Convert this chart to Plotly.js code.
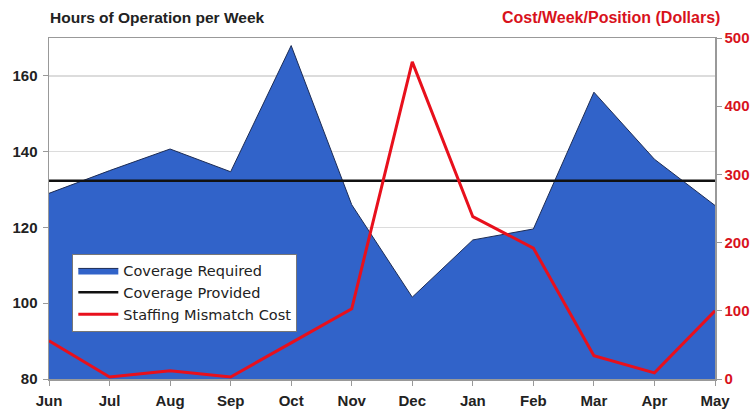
<!DOCTYPE html>
<html>
<head>
<meta charset="utf-8">
<script src="https://cdn.plot.ly/plotly-3.0.1.min.js"></script>
<style>
html,body{margin:0;padding:0;background:#fff;}
#chart{width:756px;height:414px;}
</style>
</head>
<body>
<div id="chart"></div>
<script>
const months = ["Jun","Jul","Aug","Sep","Oct","Nov","Dec","Jan","Feb","Mar","Apr","May"];
const coverageRequired = [129, 135, 140.7, 134.7, 168, 126, 101.6, 116.7, 119.6, 155.7, 138, 125.8];
const coverageProvided = [132.3, 132.3, 132.3, 132.3, 132.3, 132.3, 132.3, 132.3, 132.3, 132.3, 132.3, 132.3];
const mismatchCost = [56, 3, 12, 3, 53, 103, 465, 238, 192, 34, 9, 100];
const leftTicks = [80, 100, 120, 140, 160];
const rightTicks = [0, 100, 200, 300, 400, 500];

const tickFont = {family: "Liberation Sans, Arial, sans-serif", size: 15, color: "#222", weight: "bold"};

const traces = [
  {
    x: months, y: coverageRequired, name: "Coverage Required",
    type: "scatter", mode: "lines", fill: "tozeroy",
    fillcolor: "#3163C9", line: {color: "#1c2c55", width: 1},
    xaxis: "x", yaxis: "y"
  },
  {
    x: months, y: coverageProvided, name: "Coverage Provided",
    type: "scatter", mode: "lines",
    line: {color: "#111", width: 2.5},
    xaxis: "x", yaxis: "y"
  },
  {
    x: months, y: mismatchCost, name: "Staffing Mismatch Cost",
    type: "scatter", mode: "lines",
    line: {color: "#E8101C", width: 3},
    xaxis: "x", yaxis: "y2"
  }
];

const layout = {
  width: 756, height: 414,
  margin: {l: 49, r: 41, t: 38, b: 35},
  paper_bgcolor: "#fff", plot_bgcolor: "#fff",
  showlegend: true,
  legend: {
    x: 0.035, y: 0.368, xanchor: "left", yanchor: "top",
    bgcolor: "#fff", bordercolor: "#777", borderwidth: 1,
    font: {family: "DejaVu Sans, Verdana, sans-serif", size: 14.5, color: "#222"},
    tracegroupgap: 0, itemwidth: 40
  },
  xaxis: {
    type: "category", range: [0, 11],
    showgrid: false, showline: true, linecolor: "#999", linewidth: 1.5, mirror: true,
    ticks: "outside", ticklen: 5, tickcolor: "#999",
    tickfont: tickFont, fixedrange: true, ticklabelstandoff: 2
  },
  yaxis: {
    range: [80, 170], tickvals: leftTicks,
    showgrid: true, gridcolor: "#dcdcdc", gridwidth: 1.5,
    showline: true, linecolor: "#999", linewidth: 1.5,
    ticks: "outside", ticklen: 5, tickcolor: "#999",
    tickfont: tickFont, zeroline: false, ticklabelstandoff: 2
  },
  yaxis2: {
    range: [0, 500], tickvals: rightTicks, overlaying: "y", side: "right",
    showgrid: false, showline: true, linecolor: "#999", linewidth: 1.5,
    ticks: "outside", ticklen: 5, tickcolor: "#999",
    tickfont: Object.assign({}, tickFont, {color: "#D8121C"}), zeroline: false
  },
  annotations: [
    {text: "Hours of Operation per Week", xref: "paper", yref: "paper",
     x: -0.002, y: 1.059, xanchor: "left", yanchor: "middle", showarrow: false,
     font: {family: "Liberation Sans, Arial, sans-serif", size: 15.5, color: "#222", weight: "bold"}},
    {text: "Cost/Week/Position (Dollars)", xref: "paper", yref: "paper",
     x: 1.011, y: 1.059, xanchor: "right", yanchor: "middle", showarrow: false,
     font: {family: "Liberation Sans, Arial, sans-serif", size: 16, color: "#D8121C", weight: "bold"}}
  ]
};

Plotly.newPlot("chart", traces, layout, {displayModeBar: false, staticPlot: true});
</script>
</body>
</html>
